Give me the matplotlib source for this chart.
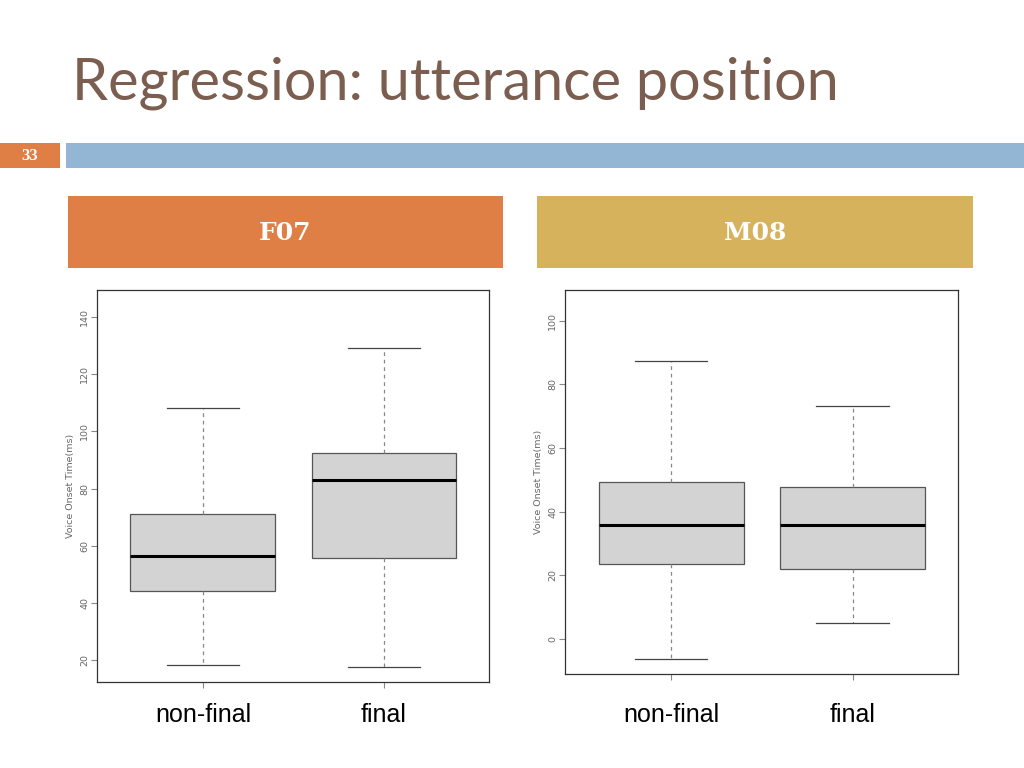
import matplotlib.pyplot as plt
from matplotlib.patches import Rectangle

W, H = 1024, 768

# data (Voice Onset Time, ms)
categories = ['non-final', 'final']
f07_whislo = [18.3, 17.6]
f07_q1 = [44.1, 55.7]
f07_med = [56.4, 83.0]
f07_q3 = [71.1, 92.4]
f07_whishi = [108.2, 129.2]
f07_yticks = [20, 40, 60, 80, 100, 120, 140]

m08_whislo = [-6.3, 5.0]
m08_q1 = [23.6, 22.0]
m08_med = [35.8, 35.8]
m08_q3 = [49.4, 47.8]
m08_whishi = [87.4, 73.3]
m08_yticks = [0, 20, 40, 60, 80, 100]


def px_axes(fig, x0, y0, x1, y1, **kw):
    # pixel box (top-left origin) -> figure axes
    return fig.add_axes([x0 / W, 1 - y1 / H, (x1 - x0) / W, (y1 - y0) / H], **kw)


def draw_box(ax, whislo, q1, med, q3, whishi, ylim, yticks, xpad):
    stats = []
    for i, name in enumerate(categories):
        stats.append(dict(label=name, whislo=whislo[i], q1=q1[i], med=med[i],
                          q3=q3[i], whishi=whishi[i], fliers=[]))
    ax.bxp(stats, positions=[1, 2], widths=0.8, patch_artist=True, showfliers=False,
           boxprops=dict(facecolor='#d3d3d3', edgecolor='#555555', linewidth=0.9),
           medianprops=dict(color='black', linewidth=2.2),
           whiskerprops=dict(color='#888888', linestyle=(0, (3, 3)), linewidth=0.9),
           capprops=dict(color='#444444', linewidth=0.9))
    ax.set_xlim(0.415, 2.58)
    ax.set_ylim(*ylim)
    ax.set_yticks(yticks)
    ax.set_yticklabels([str(t) for t in yticks], rotation=90, va='center',
                       fontsize=6.8, color='#666666')
    ax.tick_params(axis='y', length=4, color='#888888', pad=1.5)
    ax.set_xticks([1, 2])
    ax.set_xticklabels(categories, fontsize=18, family='Liberation Sans')
    ax.tick_params(axis='x', length=4, color='#888888', pad=xpad)
    ax.set_ylabel('Voice Onset Time(ms)', fontsize=6.8, color='#666666', labelpad=4)
    for s in ax.spines.values():
        s.set_color('#333333')
        s.set_linewidth(0.9)


fig = plt.figure(figsize=(10.24, 7.68), dpi=100)

# title
fig.text(72 / W, 1 - 100 / H, 'Regression: utterance position', fontsize=41.5,
         color='#7b5e4f', family='Lato', va='baseline', ha='left')

# slide bars
bg = fig.add_axes([0, 0, 1, 1], zorder=-1)
bg.set_xlim(0, W)
bg.set_ylim(H, 0)
bg.axis('off')
bg.add_patch(Rectangle((0, 143), 60, 25, color='#e07f45', lw=0))
bg.add_patch(Rectangle((66, 143), W - 66, 25, color='#93b6d5', lw=0))
bg.text(30, 156, '33', color='white', fontsize=12, fontweight='bold',
        family='Liberation Serif', ha='center', va='center')
bg.add_patch(Rectangle((68, 196), 435, 72, color='#df7f45', lw=0))
bg.add_patch(Rectangle((537, 196), 436, 72, color='#d6b25d', lw=0))
bg.text(285, 233, 'F07', color='white', fontsize=18, fontweight='bold',
        family='DejaVu Serif', ha='center', va='center')
bg.text(755, 233, 'M08', color='white', fontsize=18, fontweight='bold',
        family='DejaVu Serif', ha='center', va='center')

ax1 = px_axes(fig, 97, 290, 489, 682)
draw_box(ax1, f07_whislo, f07_q1, f07_med, f07_q3, f07_whishi, (12.3, 149.5), f07_yticks, 11)

ax2 = px_axes(fig, 565, 290, 958, 674)
draw_box(ax2, m08_whislo, m08_q1, m08_med, m08_q3, m08_whishi, (-11.0, 109.7), m08_yticks, 17)

fig.savefig('out.png', dpi=100)
